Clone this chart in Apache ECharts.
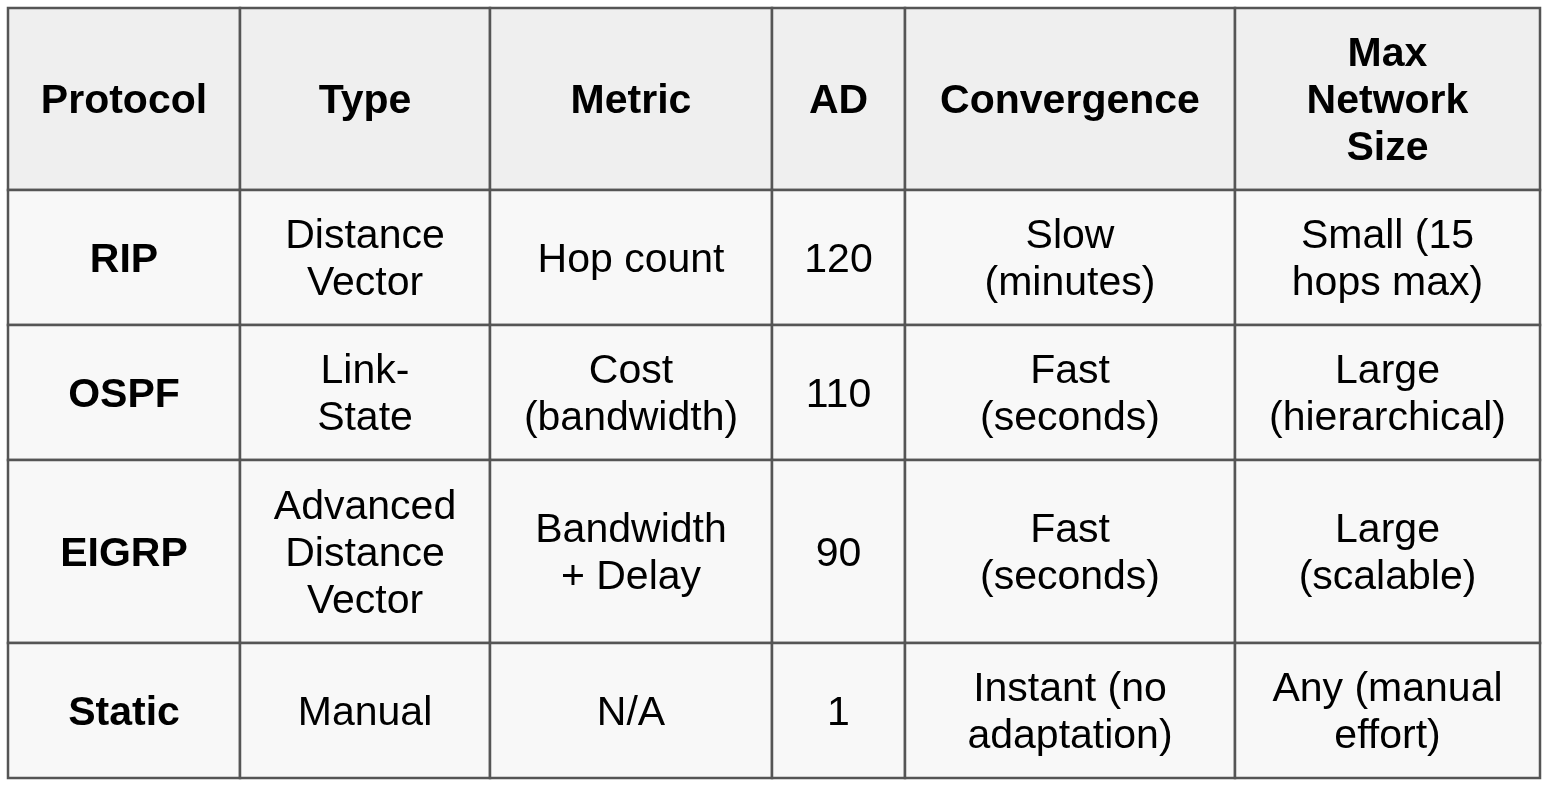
<!DOCTYPE html>
<html><head><meta charset="utf-8">
<script src="https://cdn.jsdelivr.net/npm/echarts@6/dist/echarts.min.js"></script>
<style>html,body{margin:0;padding:0;background:#fff}#c{width:1548px;height:786px}</style>
</head><body><div id="c"></div>
<script>
const headers = ["Protocol","Type","Metric","AD","Convergence","Max\nNetwork\nSize"];
const protocols = ["RIP","OSPF","EIGRP","Static"];
const types = ["Distance\nVector","Link-\nState","Advanced\nDistance\nVector","Manual"];
const metrics = ["Hop count","Cost\n(bandwidth)","Bandwidth\n+ Delay","N/A"];
const ads = ["120","110","90","1"];
const convergence = ["Slow\n(minutes)","Fast\n(seconds)","Fast\n(seconds)","Instant (no\nadaptation)"];
const maxSize = ["Small (15\nhops max)","Large\n(hierarchical)","Large\n(scalable)","Any (manual\neffort)"];

// layout (pixel-like coordinate space of the hidden axes)
const colEdges = [0,232,482,764,897,1227,1532];
const rowEdges = [0,182,317,452,635,770];

const rows = [headers];
protocols.forEach((p,i)=>rows.push([p,types[i],metrics[i],ads[i],convergence[i],maxSize[i]]));
const data = [];
rows.forEach((r,ri)=>r.forEach((t,ci)=>data.push([ci,ri,t])));

const chart = echarts.init(document.getElementById('c'));
chart.setOption({
  animation:false,
  grid:{left:8,top:8,right:8,bottom:8},
  xAxis:{type:'value',min:0,max:1532,show:false},
  yAxis:{type:'value',min:0,max:770,inverse:true,show:false},
  series:[{
    type:'custom',
    data:data,
    renderItem:function(params,api){
      const c=api.value(0), r=api.value(1);
      const t=data[params.dataIndex][2];
      const p0=api.coord([colEdges[c],rowEdges[r]]);
      const p1=api.coord([colEdges[c+1],rowEdges[r+1]]);
      const bold = r===0 || c===0;
      return {type:'group',children:[
        {type:'rect',shape:{x:p0[0],y:p0[1],width:p1[0]-p0[0],height:p1[1]-p0[1]},
         style:{fill:r===0?'#efefef':'#f8f8f8',stroke:'#555',lineWidth:2.5}},
        {type:'text',x:(p0[0]+p1[0])/2,y:(p0[1]+p1[1])/2+3,
         style:{text:t,fill:'#000',align:'center',verticalAlign:'middle',
           font:(bold?'bold ':'')+'41px "Liberation Sans", Arial, sans-serif',lineHeight:47}}
      ]};
    }
  }]
});
</script></body></html>
